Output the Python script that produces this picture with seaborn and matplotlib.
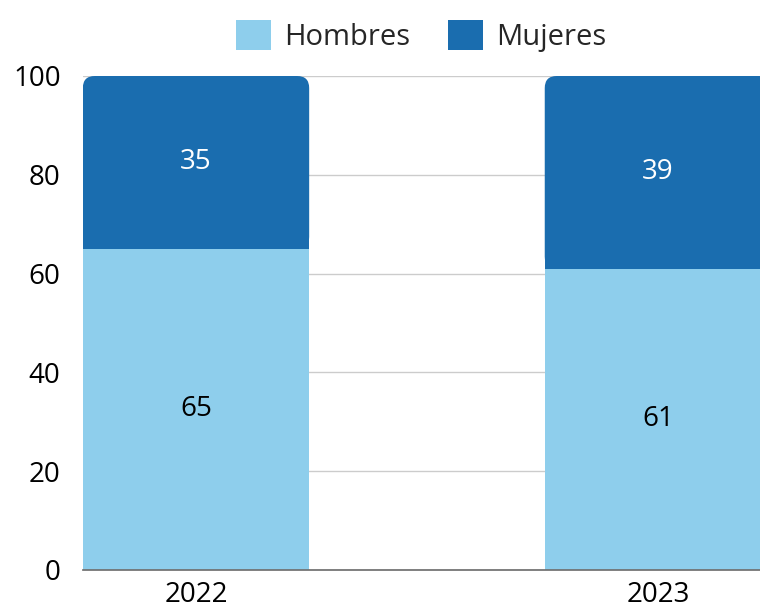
import pandas as pd
import seaborn as sns
import matplotlib.pyplot as plt
from matplotlib.patches import FancyBboxPatch, Rectangle, Patch

years = ['2022', '2023']
hombres = [65, 61]
mujeres = [35, 39]

light = '#8ECEEC'
dark = '#1A6DAF'

sns.set_theme(style='white')
plt.rcParams['font.family'] = ['Open Sans', 'DejaVu Sans']

df = pd.DataFrame({'year': years, 'Hombres': hombres, 'Mujeres': mujeres})
df['total'] = df['Hombres'] + df['Mujeres']

fig = plt.figure(figsize=(7.6, 6.08), dpi=100)
ax = fig.add_axes([0.109, 0.0625, 0.891, 0.8125])

# total bar (mujeres on top), then hombres over it
sns.barplot(data=df, x='year', y='total', color=dark, width=0.49, saturation=1, linewidth=0, ax=ax)
sns.barplot(data=df, x='year', y='Hombres', color=light, width=0.49, saturation=1, linewidth=0, ax=ax)

# swap the dark bars for ones with rounded top corners, starting at the light bar top
n = len(years)
for p, q in zip(ax.patches[:n], ax.patches[n:2 * n]):
    x0, w = p.get_x(), p.get_width()
    base, top = q.get_height(), p.get_height()
    p.set_visible(False)
    ax.add_patch(FancyBboxPatch((x0, base), w, top - base, boxstyle='round,pad=0,rounding_size=0.026',
                                mutation_aspect=93.5, fc=dark, ec='none', lw=0, zorder=1))
    ax.add_patch(Rectangle((x0, base), w, 5, fc=dark, ec='none', lw=0, zorder=1))
    q.set_zorder(2)

for i in range(n):
    ax.text(i, hombres[i] / 2, str(hombres[i]), ha='center', va='center', fontsize=20, color='black', zorder=3)
    ax.text(i, hombres[i] + mujeres[i] / 2, str(mujeres[i]), ha='center', va='center', fontsize=20, color='white', zorder=3)

ax.set_ylim(0, 100)
ax.set_xlim(-0.245, 1.221)
ax.set_yticks(range(0, 101, 20))
ax.yaxis.grid(True, color='#cccccc', lw=1)
ax.set_axisbelow(True)
ax.set_xlabel('')
ax.set_ylabel('')
for s in ['left', 'right', 'top']:
    ax.spines[s].set_visible(False)
ax.spines['bottom'].set_color('#707070')
ax.tick_params(axis='both', length=0, labelsize=20, colors='black')
ax.tick_params(axis='y', pad=16)
ax.tick_params(axis='x', pad=8)

handles = [Patch(fc=light, ec='none', label='Hombres'), Patch(fc=dark, ec='none', label='Mujeres')]
ax.legend(handles=handles, loc='lower center', bbox_to_anchor=(0.5, 1.025), ncol=2, frameon=False,
          fontsize=21, handlelength=1.2, handleheight=1.2, handletextpad=0.45, columnspacing=1.3,
          borderaxespad=0)

fig.savefig('out.png', dpi=100)
